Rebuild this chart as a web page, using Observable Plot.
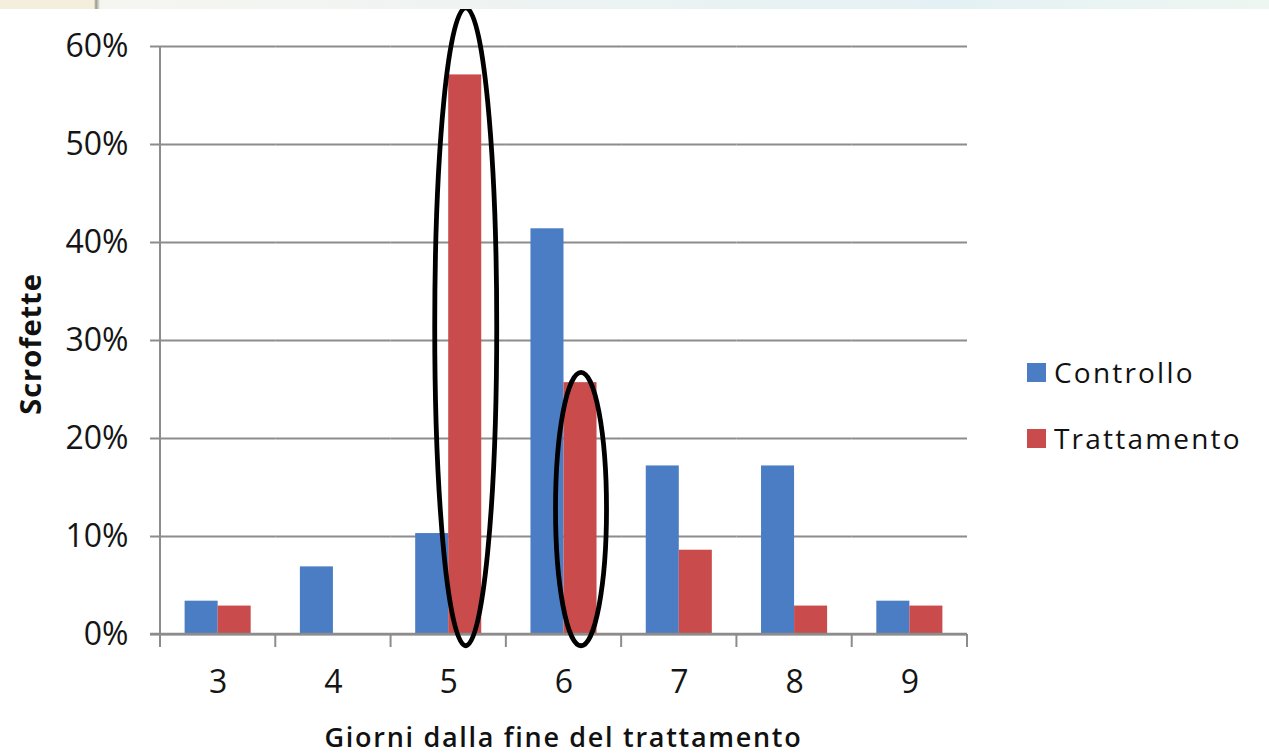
<!DOCTYPE html>
<html>
<head>
<meta charset="utf-8">
<script src="https://cdn.jsdelivr.net/npm/d3@7"></script>
<script src="https://cdn.jsdelivr.net/npm/@observablehq/plot@0.6"></script>
<style>
  html, body { margin: 0; padding: 0; background: #fff; width: 1269px; height: 755px; overflow: hidden; }
  #wrap { position: relative; width: 1269px; height: 755px; }
  #topband { position: absolute; left: 0; top: 0; width: 1269px; height: 9px; z-index: 2;
    background: linear-gradient(90deg, #f3efdc 0px, #f3efdc 94px, #9a968a 96px, #f6f6f1 100px, #eef3f2 40%, #e4f1f4 75%, #eef6f1 100%); }
  #chart { position: absolute; left: 0; top: 0; }
  #xtitle { position: absolute; left: 160px; width: 807px; top: 718px; text-align: center;
    font-family: "Open Sans", sans-serif; font-weight: 600; font-size: 27px; color: #111; letter-spacing: 1.7px; }
  #legend { position: absolute; left: 1027px; top: 355px; font-family: "Open Sans", sans-serif; font-size: 28px; color: #111; letter-spacing: 2.2px; }
  #legend .item { display: flex; align-items: center; height: 34px; margin-bottom: 32px; }
  #legend .sw { width: 19px; height: 19px; margin-right: 8px; }
</style>
</head>
<body>
<div id="wrap">
  <div id="topband"></div>
  <div id="chart"></div>
  <div id="xtitle"></div>
  <div id="legend"></div>
</div>
<script>
// ---- data ----
const days = ["3", "4", "5", "6", "7", "8", "9"];
const series = ["Controllo", "Trattamento"];
const controllo = [3.4, 6.9, 10.3, 41.4, 17.2, 17.2, 3.4];
const trattamento = [2.9, 0, 57.1, 25.7, 8.6, 2.9, 2.9];
const yTicks = [0, 10, 20, 30, 40, 50, 60];
const xTitle = "Giorni dalla fine del trattamento";
const yTitle = "Scrofette";
// highlighted bars (hand-drawn ellipses): day, series, vertical extent in %
const highlightDay = ["5", "6"];
const highlightSeries = ["Trattamento", "Trattamento"];
const highlightFrom = [-1.2, -1.2];
const highlightTo = [63.9, 26.7];

// ---- styles ----
const colors = ["#4a7dc3", "#c94b4b"];
const ellipseRx = [31, 25.5];
const fontFam = "'Open Sans', sans-serif";

const data = [];
days.forEach((d, i) => {
  data.push({day: d, series: series[0], value: controllo[i]});
  data.push({day: d, series: series[1], value: trattamento[i]});
});

const chart = Plot.plot({
  width: 1269,
  height: 712,
  marginLeft: 160,
  marginRight: 302,
  marginTop: 46,
  marginBottom: 78,
  style: {fontFamily: fontFam, background: "transparent", color: "#151515"},
  fx: {domain: days, padding: 0, round: false, label: null},
  x: {domain: series, paddingInner: 0, paddingOuter: 0.745, round: false, axis: null},
  y: {domain: [0, 60], label: null},
  color: {domain: series, range: colors},
  marks: [
    Plot.ruleY(yTicks, {stroke: "#8c8c8c", strokeWidth: 2}),
    Plot.barY(data, {fx: "day", x: "series", y: "value", fill: "series", inset: 0}),
    Plot.axisY(yTicks, {tickFormat: d => d + "%", tickSize: 10, tickPadding: 22, fontSize: 32,
      stroke: "#8c8c8c", strokeWidth: 2, label: null, letterSpacing: 1, fontWeight: 500}),
    Plot.axisFx({anchor: "bottom", tickSize: 0, tickPadding: 36, fontSize: 32, label: null, fontWeight: 500})
  ]
});
document.getElementById("chart").appendChild(chart);

// axis lines, category separator ticks, title and ellipses from the library's scales
const svg = d3.select(chart);
const fxS = chart.scale("fx"), xS = chart.scale("x"), yS = chart.scale("y");
const step = fxS.bandwidth;
const left = fxS.apply(days[0]);
const right = fxS.apply(days[days.length - 1]) + step;
const y0 = yS.apply(0);
const g = svg.append("g");
g.append("line").attr("x1", left).attr("x2", left).attr("y1", yS.apply(60)).attr("y2", y0 + 13)
  .attr("stroke", "#8c8c8c").attr("stroke-width", 2);
g.append("line").attr("x1", left - 10).attr("x2", right).attr("y1", y0).attr("y2", y0)
  .attr("stroke", "#8c8c8c").attr("stroke-width", 2.5);
days.forEach((d, i) => {
  const xx = fxS.apply(d) + step;
  g.append("line").attr("x1", xx).attr("x2", xx).attr("y1", y0).attr("y2", y0 + 13)
    .attr("stroke", "#8c8c8c").attr("stroke-width", 2);
});
g.append("text").attr("transform", `translate(41,${(yS.apply(0) + yS.apply(60)) / 2 + 4}) rotate(-90)`)
  .attr("text-anchor", "middle").attr("font-family", fontFam).attr("font-weight", 700)
  .attr("font-size", 29).attr("letter-spacing", 1).attr("fill", "#111").text(yTitle);
const xr0 = xS.range[0];
highlightDay.forEach((d, i) => {
  const cx = fxS.apply(d) + (xS.apply(highlightSeries[i]) - xr0) + xS.bandwidth / 2 + 1;
  const top = yS.apply(highlightTo[i]), bot = yS.apply(highlightFrom[i]);
  g.append("ellipse").attr("cx", cx).attr("cy", (top + bot) / 2).attr("rx", ellipseRx[i]).attr("ry", (bot - top) / 2)
    .attr("fill", "none").attr("stroke", "#000").attr("stroke-width", 4.8);
});

document.getElementById("xtitle").textContent = xTitle;
const leg = document.getElementById("legend");
series.forEach((s, i) => {
  const it = document.createElement("div"); it.className = "item";
  const sw = document.createElement("div"); sw.className = "sw"; sw.style.background = colors[i];
  const tx = document.createElement("span"); tx.textContent = s;
  it.appendChild(sw); it.appendChild(tx); leg.appendChild(it);
});
</script>
</body>
</html>
